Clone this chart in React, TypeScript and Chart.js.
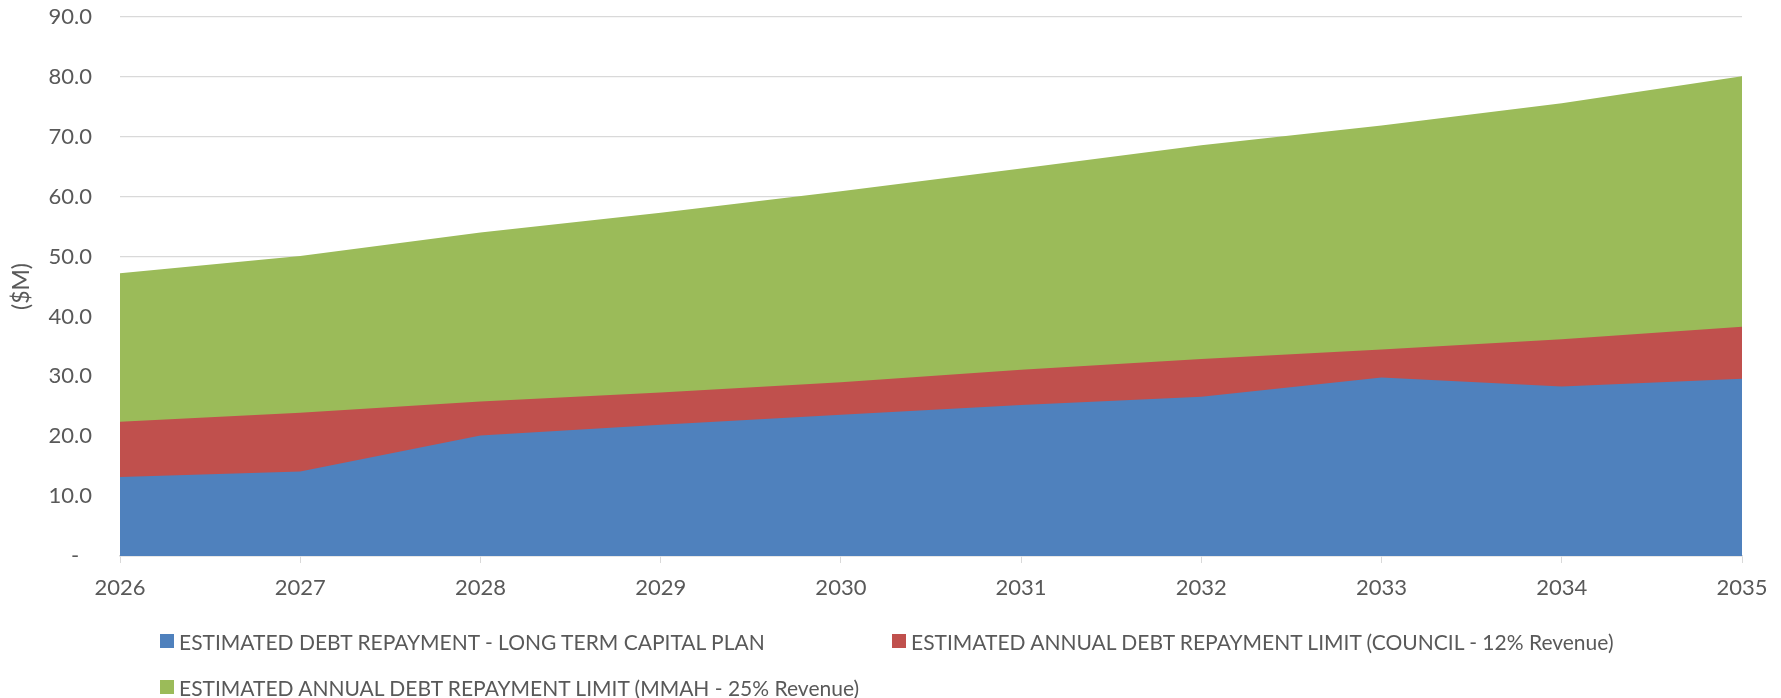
import React, { useEffect, useRef } from "react";
import { Chart, registerables } from "chart.js";

Chart.register(...registerables);

const years = ["2026", "2027", "2028", "2029", "2030", "2031", "2032", "2033", "2034", "2035"];
const ltcpRepayment = [13.2, 14.1, 20.1, 21.9, 23.6, 25.2, 26.6, 29.8, 28.3, 29.6];
const councilLimit = [22.4, 23.9, 25.8, 27.3, 29.0, 31.1, 32.9, 34.5, 36.2, 38.3];
const mmahLimit = [47.2, 50.1, 54.0, 57.3, 60.9, 64.7, 68.6, 71.9, 75.6, 80.1];
const seriesNames = [
  "ESTIMATED DEBT REPAYMENT - LONG TERM CAPITAL PLAN",
  "ESTIMATED ANNUAL DEBT REPAYMENT LIMIT (COUNCIL - 12% Revenue)",
  "ESTIMATED ANNUAL DEBT REPAYMENT LIMIT (MMAH - 25% Revenue)",
];
const seriesColors = ["#4F81BD", "#C0504D", "#9BBB59"];
const yAxisTitle = "($M)";

const FONT = "Lato, 'Open Sans', sans-serif";
const TEXT = "#595959";

export default function App() {
  const canvasRef = useRef<HTMLCanvasElement | null>(null);

  useEffect(() => {
    document.body.style.margin = "0";
    const ctx = canvasRef.current!.getContext("2d")!;
    const values = [ltcpRepayment, councilLimit, mmahLimit];
    const chart = new Chart(ctx, {
      type: "line",
      data: {
        labels: years,
        datasets: values.map((d, i) => ({
          label: seriesNames[i],
          data: d,
          backgroundColor: seriesColors[i],
          borderColor: seriesColors[i],
          borderWidth: 0,
          pointRadius: 0,
          fill: "origin",
          tension: 0,
          order: i,
        })),
      },
      options: {
        animation: false,
        responsive: false,
        maintainAspectRatio: false,
        layout: { padding: { top: 17, right: 39, bottom: 92, left: 0 } },
        plugins: { legend: { display: false }, tooltip: { enabled: false } },
        scales: {
          x: {
            offset: false,
            grid: {
              display: true,
              drawOnChartArea: false,
              drawTicks: true,
              tickLength: 7,
              color: "#D9D9D9",
            },
            border: { display: true, color: "#D9D9D9", width: 1.5 },
            ticks: { color: TEXT, font: { family: FONT, size: 22 }, padding: 12, maxRotation: 0 },
            afterFit: (s: any) => { s.height = 50; },
          },
          y: {
            min: 0,
            max: 90,
            ticks: {
              stepSize: 10,
              color: TEXT,
              font: { family: FONT, size: 22 },
              padding: 28,
              callback: (v: any) => (Number(v) === 0 ? "-\u2007" : Number(v).toFixed(1)),
            },
            grid: { color: "#D9D9D9", lineWidth: 1.3, drawTicks: false },
            border: { display: false },
            title: {
              display: true,
              text: yAxisTitle,
              color: TEXT,
              font: { family: FONT, size: 23 },
              padding: { top: 8, bottom: 0 },
            },
            afterFit: (s: any) => {
              s.width = 120;
              s.paddingTop = 12;
              s.paddingBottom = 12;
            },
          },
        },
      },
    });
    return () => chart.destroy();
  }, []);

  const legendItems = [
    { i: 0, left: 160, top: 641 },
    { i: 1, left: 892, top: 641 },
    { i: 2, left: 160, top: 687 },
  ];

  return (
    <div style={{ position: "fixed", left: 0, top: 0, width: 1781, height: 698, background: "#fff" }}>
      <canvas ref={canvasRef} width={1781} height={698} style={{ width: 1781, height: 698, display: "block" }} />
      {legendItems.map(({ i, left, top }) => (
        <div
          key={i}
          style={{
            position: "absolute",
            left,
            top: top - 13,
            height: 26,
            display: "flex",
            alignItems: "center",
            fontFamily: FONT,
            fontSize: 21,
            color: TEXT,
            whiteSpace: "nowrap",
          }}
        >
          <span style={{ width: 14, height: 14, background: seriesColors[i], marginRight: 5, display: "inline-block" }} />
          <span>{seriesNames[i]}</span>
        </div>
      ))}
    </div>
  );
}
